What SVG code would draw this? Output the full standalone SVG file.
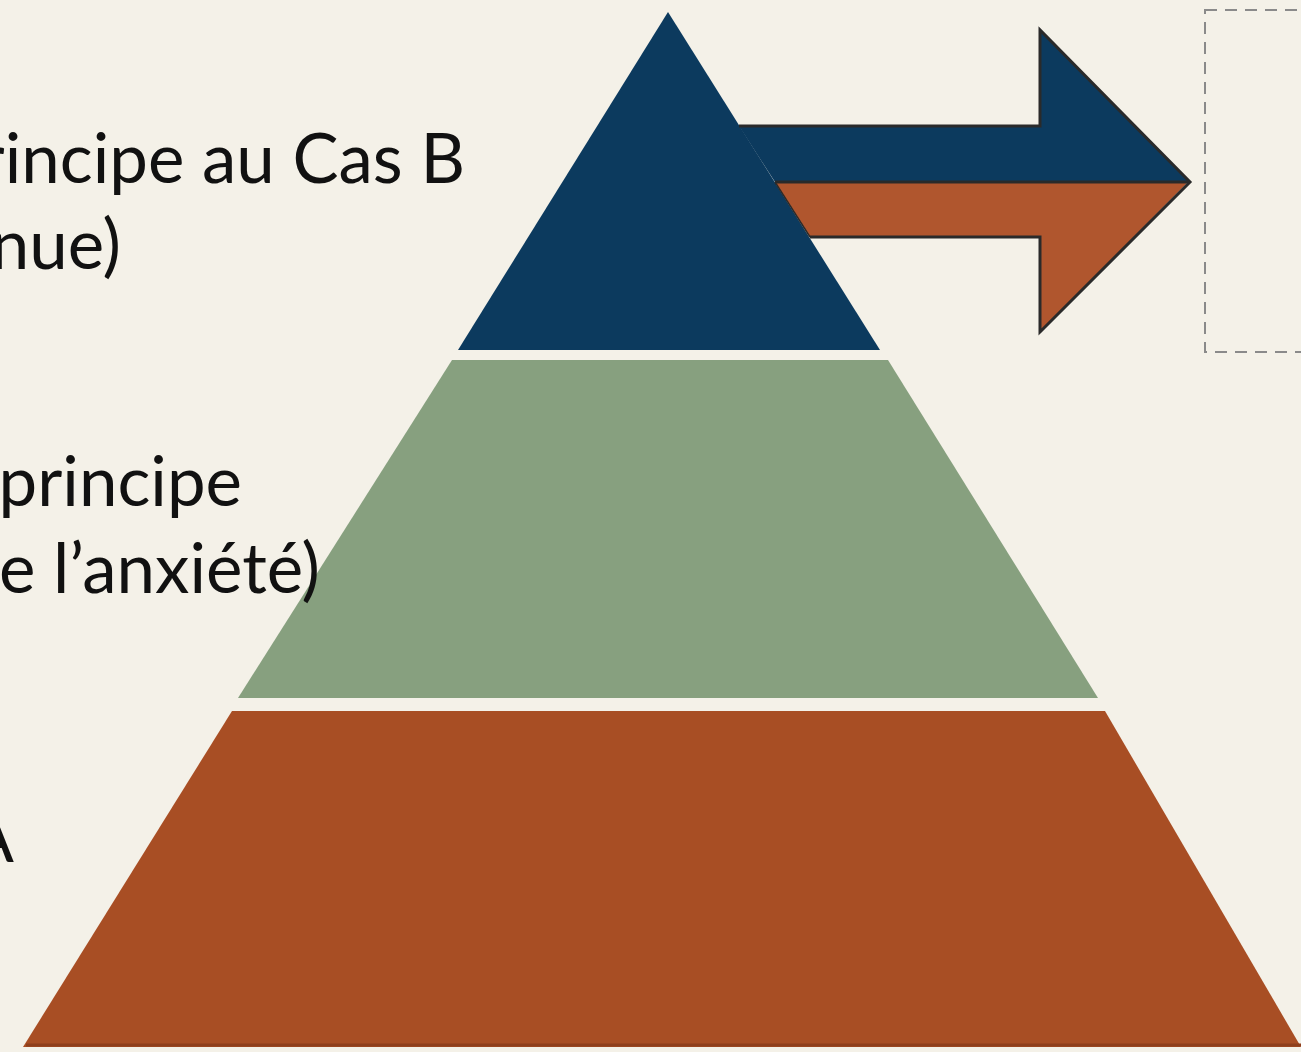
<svg xmlns="http://www.w3.org/2000/svg" width="1301" height="1052" viewBox="0 0 1301 1052">
<style>
.lbl{font-family:Lato,"Liberation Sans",sans-serif;font-size:69px;fill:#111;}
.out{fill:none;stroke:#2a2a2a;stroke-width:3;stroke-linejoin:miter;}
</style>
<rect width="1301" height="1052" fill="#f4f1e8"/>
<g id="level-bottom">
<polygon points="232,711 1105,711 1301,1047 23,1047" fill="#a84e24"/>
<line x1="26" y1="1045" x2="1301" y2="1045" stroke="#8e3f1c" stroke-width="3"/>
</g>
<g id="level-middle">
<polygon points="452,360 888,360 1098,698 238,698" fill="#87a07f"/>
</g>
<g id="level-top">
<polygon points="668,12 880,350 458,350" fill="#0c3a5e"/>
</g>
<g id="connectors">
<polygon points="739,126 1040,126 1040,30 1190,182 775,182" fill="#0c3a5e"/>
<polygon points="775,182 1188,182 1040,332 1040,237 810,237" fill="#b0562e"/>
<polyline class="out" points="739,126 1040,126 1040,30 1190,182 1040,332 1040,237 810,237"/>
<line class="out" x1="775" y1="182" x2="1188" y2="182"/>
<line x1="775" y1="182" x2="810" y2="237" stroke="#2a2a2a" stroke-width="1.5"/>
</g>
<g id="target-box">
<rect x="1205" y="10" width="200" height="342" fill="none" stroke="#8a8a8a" stroke-width="2" stroke-dasharray="12 8"/>
</g>
<g id="labels">
<text class="lbl" x="465" y="183" text-anchor="end">rincipe au Cas B</text>
<text class="lbl" x="121" y="269" text-anchor="end">nue)</text>
<text class="lbl" x="242" y="506" text-anchor="end">principe</text>
<text class="lbl" x="320" y="593" text-anchor="end">e l’anxiété)</text>
<text class="lbl" x="14" y="862" text-anchor="end">A</text>
</g>
</svg>
